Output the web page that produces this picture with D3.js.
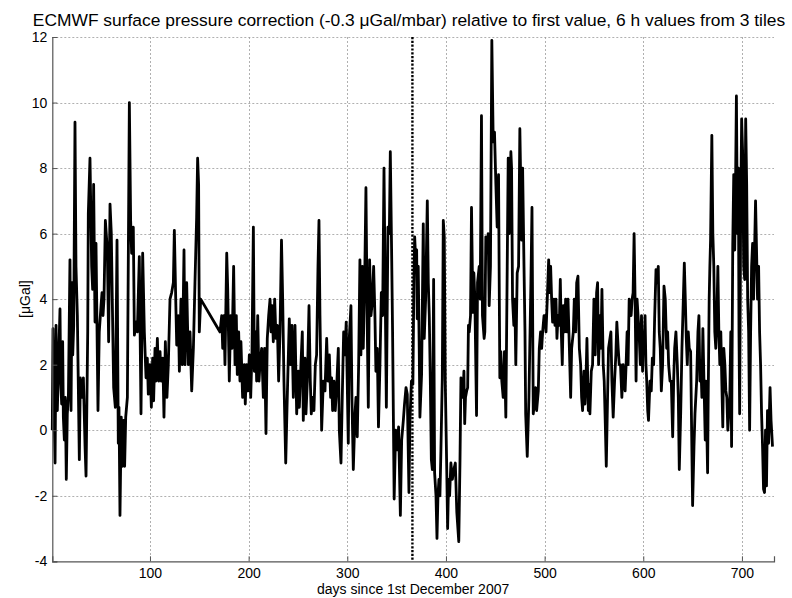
<!DOCTYPE html>
<html>
<head>
<meta charset="utf-8">
<script src="https://cdn.jsdelivr.net/npm/d3@7/dist/d3.min.js"></script>
<style>
  html, body { margin: 0; padding: 0; background: #fff; }
  svg { display: block; font-family: "Liberation Sans", Arial, Helvetica, sans-serif; }
</style>
</head>
<body>
<svg id="chart" width="792" height="598"></svg>
<script>
// ECMWF surface pressure correction, 6-hourly, days since 1 Dec 2007
const titleText = "ECMWF surface pressure correction (-0.3 \u03bcGal/mbar) relative to first value, 6 h values from 3 tiles";
const xLabel = "days since 1st December 2007";
const yLabel = "[\u03bcGal]";
const xTicks = [100, 200, 300, 400, 500, 600, 700];
const yTicks = [-4, -2, 0, 2, 4, 6, 8, 10, 12];
const xDomain = [1, 732.5];
const yDomain = [-4, 12];
const yearMarkDay = 366;

// [day, correction in µGal]
const correction = [
  [1,0],[1.7,3.1],[2.5,1.0],[3.8,-1.0],[4.8,3.2],[6.1,0.6],[7.1,1.8],[8.8,3.7],[9.5,1.5],[10.5,0.8],
  [11.5,2.7],[12.2,0.4],[13.2,-0.3],[14.2,1.0],[15.2,-1.5],[16.2,0.5],[17.3,1.0],[18.9,5.2],[20,0.6],[21,4.5],
  [21.7,2.3],[22.7,3.2],[24,9.4],[25,5.0],[26.4,3.5],[28.4,-0.9],[29.4,1.6],[30.8,1.0],[32.5,1.6],[34.2,-0.5],
  [35.2,-1.4],[36.9,3.0],[37.5,6.6],[39.2,8.3],[40.9,5.0],[41.9,4.3],[42.9,7.5],[44.3,3.3],[45.3,5.7],[47.3,0.6],
  [48.6,3.0],[50.4,3.8],[51.4,4.2],[52.4,3.5],[53.4,4.0],[54.8,6.4],[56.8,5.5],[58.1,2.7],[59.5,6.9],[60.8,6.0],
  [61.8,4.0],[63.2,1.3],[64.9,0.7],[66.6,5.8],[67.9,-0.4],[68.6,0.7],[69.6,-2.6],[70.9,0.4],[72,-1.1],[73.3,0.3],
  [74.3,-1.1],[75.4,0.4],[77.1,1.0],[79.1,10.0],[80.4,6.4],[81.4,5.4],[83.1,6.2],[84.2,2.9],[85.8,3.3],[87.2,3.0],
  [89.2,5.3],[90.9,0.5],[92.6,5.4],[94.3,3.0],[96,1.6],[97.3,2.2],[98.3,1.1],[100,2.0],[101.4,0.7],[102.7,2.2],
  [103.7,0.9],[105.1,2.5],[106.1,1.5],[107.5,2.8],[108.8,1.5],[110.2,2.4],[111.5,1.5],[113,2.2],[114.2,0.4],[115.6,2.7],
  [117.2,1.0],[118.6,2.0],[120.3,4.0],[122,4.2],[123.7,4.5],[124.7,6.1],[126.1,4.0],[127.1,2.6],[128.8,3.5],[129.8,1.8],
  [131.4,4.0],[132.8,2.0],[134.5,5.5],[135.5,2.0],[137.2,4.5],[138.9,2.0],[140.6,3.0],[142.3,1.2],[144,2.5],[145.6,4.5],
  [147.3,6.5],[148.3,8.3],[149.3,7.5],[150,3.0],[151.4,4.0],[171,3.0],[172.7,3.5],[173.7,2.5],[175,3.5],[176,2.0],
  [177.8,5.4],[178.8,4.3],[180.4,1.5],[181.8,3.5],[183.2,2.5],[184.8,5.0],[186.2,2.0],[187.5,3.5],[188.5,1.7],[189.9,3.0],
  [191.2,1.5],[192.2,2.7],[193.9,1.0],[195.6,2.0],[196.6,0.8],[198,2.0],[199.3,1.2],[200.7,2.3],[202.1,1.0],[203.4,2.4],
  [204.8,6.2],[205.8,1.8],[207.1,3.0],[208.1,1.5],[209.2,3.5],[210.5,1.5],[211.5,2.0],[213.2,2.5],[214.9,1.0],[216.2,2.5],
  [217.6,-0.1],[218.9,2.8],[220.3,3.5],[221.7,4.0],[222.7,3.0],[223.7,3.8],[225,2.7],[226.4,4.0],[227.7,2.8],[229.1,3.2],
  [230.4,1.5],[231.8,3.0],[233.3,5.8],[234.5,4.0],[235.8,1.5],[237.6,-1.0],[239,0.8],[241.2,3.4],[242.6,2.0],[243.9,3.2],
  [245.3,1.0],[247,3.2],[248.7,0.5],[250.4,1.8],[251.4,0.7],[253,2.0],[254.4,3.0],[255.4,0.3],[257.1,2.2],[258.1,0.5],
  [259.5,1.5],[261.2,3.8],[262.5,1.5],[263.5,0.5],[264.9,1.0],[266.2,0.6],[267.6,2.0],[268.9,2.3],[270.3,5.0],[271.3,6.4],
  [272.3,3.5],[274,0.0],[275.7,1.5],[277.4,1.2],[279.1,2.8],[280.4,1.5],[281.8,2.3],[283.1,1.0],[284.1,1.6],[285.1,0.6],
  [286.5,1.5],[287.8,0.6],[289.2,1.3],[290.9,2.5],[291.9,0.0],[293.6,-1.0],[294.9,1.0],[296.3,3.0],[297.6,2.3],[298.9,3.3],
  [301,-0.4],[302,2.8],[303.7,3.8],[304.7,1.0],[306.1,-1.2],[307.8,0.5],[308.8,1.0],[310.1,-0.2],[311.5,2.0],[312.8,5.2],
  [313.8,2.3],[315.2,5.0],[316.2,2.5],[317.6,4.5],[318.9,7.4],[320.3,3.0],[321.3,0.7],[322.6,5.2],[324,3.5],[325.3,3.9],
  [326.7,5.0],[328,3.5],[329,1.8],[330.4,2.5],[331.6,0.1],[333.1,2.0],[334.5,4.2],[335.8,3.5],[337.2,8.0],[338.5,4.0],
  [339.6,0.7],[341.2,6.2],[342.6,6.0],[343.6,8.5],[344.9,5.5],[345.9,3.0],[347.5,-2.1],[349,0.0],[350.5,-0.6],[352,0.1],
  [353.8,-2.6],[355.1,-0.3],[356.8,0.3],[358,0.8],[359.5,1.3],[360.8,1.1],[362.5,-1.9],[363.5,0.3],[365,1.5],[366.5,1.4],
  [367.5,4.5],[368.3,5.9],[369.6,5.0],[370.3,5.5],[370.9,3.4],[371.9,5.0],[372.9,2.5],[373.6,0.4],[375.3,1.7],[377,6.3],
  [378,2.8],[379.4,4.0],[381.1,7.0],[382.1,4.5],[383.1,3.5],[384.1,1.6],[385.2,-0.9],[386.2,-1.2],[387.5,4.6],[388.5,-1.3],
  [389.9,-2.0],[390.9,-3.3],[391.9,-2.0],[392.9,-1.5],[393.9,-2.0],[394.9,-0.6],[396.3,1.6],[397.3,6.4],[398.3,5.9],[399.3,1.5],
  [400.7,-1.0],[401.7,-3.0],[402.7,-1.5],[403.7,-2.0],[405,-1.0],[406.5,-1.5],[408,-1.2],[409.5,-1.0],[411,-2.5],[413,-3.4],
  [414.2,-1.0],[415.2,1.6],[416.2,1.3],[417.2,1.0],[418.2,1.8],[419,0.2],[419.8,1.0],[421,1.2],[422,1.3],[422.8,3.2],
  [423.6,3.0],[424.9,3.5],[425.9,6.8],[427.3,3.6],[428.3,4.8],[429.3,4.0],[431,0.45],[432,4.5],[433.7,5.0],[434.7,4.0],
  [436,9.6],[437,3.5],[438.7,2.8],[439.4,3.0],[440.4,5.9],[441.8,5.5],[442.8,6.0],[443.8,3.8],[445.1,5.0],[446.5,11.9],
  [447.9,8.8],[449.2,9.1],[450.6,7.5],[451.9,6.2],[453.3,7.8],[454.6,1.6],[455.6,2.4],[456.6,1.5],[458,1.0],[459.3,2.4],
  [460.7,0.4],[462.1,5.0],[463.1,8.3],[464.1,6.0],[465.1,7.5],[465.8,8.5],[466.5,8.0],[467.5,4.0],[468.8,3.2],[469.8,4.0],
  [470.8,2.0],[472.2,4.8],[473.6,5.0],[474.9,9.2],[476.1,7.0],[476.7,5.8],[477.7,8.0],[479.1,5.0],[480.1,3.0],[480.8,0.5],
  [482.4,-0.8],[484.1,1.0],[486.1,4.5],[487.2,6.8],[488.5,0.5],[489.5,0.8],[490.9,1.3],[491.9,0.6],[493.6,1.2],[494.6,2.5],
  [495.9,3.0],[497,2.5],[498,3.0],[499.4,3.5],[500.4,3.5],[501.4,3.0],[502.7,4.0],[504.1,5.2],[505.1,4.2],[506.1,5.0],
  [507.1,4.0],[508.1,3.3],[509.5,4.0],[510.5,3.2],[511.5,4.0],[512.5,2.8],[513.6,3.5],[514.9,3.2],[515.9,4.6],[516.9,3.0],
  [517.9,2.0],[519,3.8],[520.3,3.0],[521.3,4.0],[522.7,3.0],[523.7,4.0],[525.1,2.5],[526.4,1.0],[527.4,2.5],[529.1,3.0],
  [530.1,4.0],[531.5,3.0],[532.5,4.5],[533.8,4.7],[535.2,2.5],[536.5,2.0],[537.5,1.0],[538.5,0.6],[539.9,1.8],[540.9,0.8],
  [541.9,1.5],[542.9,2.8],[544.3,0.6],[545.3,1.4],[545.9,0.5],[547.3,1.8],[548.6,2.0],[550,4.0],[551.3,2.3],[552.7,4.2],
  [553.7,4.5],[554.7,2.0],[556.1,3.5],[557.1,2.5],[558.1,4.3],[559.4,2.0],[560.4,1.5],[561.5,0.2],[562.5,-1.1],[563.8,1.0],
  [564.8,2.5],[566.2,2.8],[567.2,3.0],[568.2,1.5],[569.5,0.4],[570.9,1.5],[572.2,2.3],[573.2,3.3],[574.6,2.5],[575.6,2.0],
  [576.9,2.0],[578.3,1.0],[579.6,2.0],[580.6,1.5],[581.6,1.2],[582.6,2.0],[583.6,3.0],[584.6,2.0],[585.7,4.0],[586.7,3.5],
  [587.7,3.5],[588.7,4.0],[589.7,4.2],[590.7,6.0],[591.7,4.0],[592.7,1.5],[593.7,4.0],[594.7,3.5],[595.7,3.0],[597,2.0],
  [598.2,3.5],[599.3,1.8],[600.2,3.0],[601,2.5],[601.8,3.5],[602.7,2.0],[603.5,1.5],[604.5,0.6],[605.3,0.3],[606.8,1.5],
  [608.1,1.2],[609.2,2.2],[610.5,2.0],[611.5,3.4],[612.9,4.9],[613.9,4.5],[615.2,5.0],[616.2,3.0],[617.2,2.5],[618.3,1.2],
  [619.6,2.0],[621,4.4],[622.3,4.0],[623.7,2.5],[624.7,3.0],[625.7,2.0],[627.1,1.5],[628.4,1.5],[629.8,-0.2],[630.8,1.5],
  [631.8,2.5],[633.1,3.0],[634.5,2.0],[635.5,1.0],[636.5,-1.2],[637.9,0.5],[639.2,2.5],[640.6,4.0],[641.6,5.1],[642.6,4.0],
  [643.6,2.8],[644.6,2.0],[645.6,3.0],[646.6,2.5],[648,2.4],[649,0.0],[650,-2.3],[651.4,-0.5],[652.4,0.5],[654.1,1.5],
  [655.4,3.0],[656.4,3.5],[657.4,1.5],[658.4,2.0],[659.4,1.0],[660.4,3.1],[661.5,1.5],[662.8,-0.3],[663.5,1.5],[665.2,-1.3],
  [665.8,1.0],[666.8,4.0],[667.5,5.0],[668.2,5.8],[669.5,9.0],[670.5,6.0],[671.5,5.0],[672.5,3.0],[673.5,2.5],[674.6,3.5],
  [675.6,5.0],[676.6,3.0],[677.6,2.0],[678.6,3.0],[679.6,1.5],[680.6,0.1],[681.6,2.5],[682.7,2.0],[683.7,1.2],[684.7,1.0],
  [685.7,0.0],[686.7,0.5],[687.7,1.0],[688.7,3.0],[689.5,-0.5],[690.7,5.7],[691.7,7.8],[692.7,5.5],[693.7,8.0],[694.4,10.2],
  [695.4,6.0],[696.4,8.0],[697,3.0],[697.7,0.5],[698.7,6.5],[699.7,9.5],[700.7,8.5],[701.8,5.0],[702.8,4.6],[703.8,9.5],
  [704.8,7.5],[705.8,4.0],[706.8,3.0],[707.8,0.0],[708.8,3.0],[709.8,5.0],[710.8,5.7],[711.8,4.0],[712.8,5.5],[713.8,7.0],
  [714.8,5.5],[715.8,4.0],[716.9,5.0],[717.9,3.0],[718.9,2.0],[719.9,0.5],[720.9,-0.5],[721.9,-1.8],[722.9,-1.9],[723.9,0.0],
  [724.9,-1.7],[725.9,0.6],[727,-0.4],[728.5,1.3],[729.5,0.3],[731,-0.5]
];

const svg = d3.select("#chart");
const plot = { left: 52.3, right: 774, top: 37, bottom: 561.3 };

const x = d3.scaleLinear().domain(xDomain).range([plot.left, plot.right]);
const y = d3.scaleLinear().domain(yDomain).range([plot.bottom, plot.top]);

// grid
const grid = svg.append("g").attr("class", "grid")
  .attr("stroke", "#9c9c9c").attr("stroke-width", 0.8).attr("stroke-dasharray", "2,2");
grid.selectAll("line.gx").data(xTicks).join("line")
  .attr("x1", d => Math.round(x(d)) + 0.5).attr("x2", d => Math.round(x(d)) + 0.5)
  .attr("y1", plot.top).attr("y2", plot.bottom);
grid.selectAll("line.gy").data(yTicks.filter(d => d > yDomain[0])).join("line")
  .attr("x1", plot.left).attr("x2", plot.right)
  .attr("y1", d => Math.round(y(d)) + 0.5).attr("y2", d => Math.round(y(d)) + 0.5);

// data line
const line = d3.line().x(d => x(d[0])).y(d => y(d[1]));
svg.append("path")
  .datum(correction)
  .attr("d", line)
  .attr("fill", "none")
  .attr("stroke", "#000")
  .attr("stroke-width", 2.8)
  .attr("stroke-linejoin", "round");

// marker at one year
svg.append("line")
  .attr("x1", x(yearMarkDay)).attr("x2", x(yearMarkDay))
  .attr("y1", plot.top).attr("y2", plot.bottom)
  .attr("stroke", "#000").attr("stroke-width", 2.4)
  .attr("stroke-dasharray", "2.2,1.6");

// axes
const xAxis = d3.axisBottom(x).tickValues(xTicks).tickSize(-5).tickPadding(7).tickFormat(d3.format("d"));
const yAxis = d3.axisLeft(y).tickValues(yTicks).tickSize(-5).tickPadding(5).tickFormat(d => d3.format("d")(d).replace("\u2212", "-"));

const gx = svg.append("g").attr("transform", `translate(0,${plot.bottom})`).call(xAxis);
const gy = svg.append("g").attr("transform", `translate(${plot.left},0)`).call(yAxis);
[gx, gy].forEach(g => {
  g.select(".domain").attr("stroke", "#555").attr("stroke-width", 1.2);
  g.selectAll(".tick line").attr("stroke", "#555").attr("stroke-width", 1);
  g.selectAll(".tick text").attr("fill", "#000").style("font-size", "14px")
    .style("font-family", "'Liberation Sans', Arial, sans-serif");
});

// titles
svg.append("text")
  .attr("x", 409).attr("y", 26)
  .attr("text-anchor", "middle").style("font-size", "17.4px").attr("fill", "#000")
  .text(titleText);
svg.append("text")
  .attr("x", (plot.left + plot.right) / 2).attr("y", 594)
  .attr("text-anchor", "middle").style("font-size", "14px").attr("fill", "#000")
  .text(xLabel);
svg.append("text")
  .attr("transform", `translate(30,${(plot.top + plot.bottom) / 2}) rotate(-90)`)
  .attr("text-anchor", "middle").style("font-size", "14px").attr("fill", "#000")
  .text(yLabel);
</script>
</body>
</html>
